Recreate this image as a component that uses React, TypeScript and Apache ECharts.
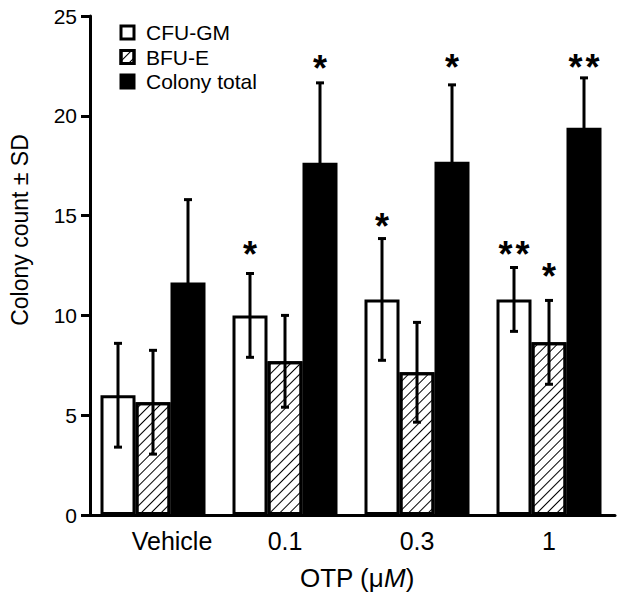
import React, { useEffect, useRef } from "react";
import * as echarts from "echarts";

const categories = ["Vehicle", "0.1", "0.3", "1"];
const cfuMean = [6.0, 10.0, 10.8, 10.8];
const cfuSD = [2.6, 2.1, 3.05, 1.6];
const cfuStars = ["", "*", "*", "**"];
const cfuStarY = [0, 13.25, 14.65, 13.25];
const bfuMean = [5.65, 7.7, 7.15, 8.65];
const bfuSD = [2.6, 2.3, 2.5, 2.1];
const bfuStars = ["", "", "", "*"];
const bfuStarY = [0, 0, 0, 12.15];
const totMean = [11.65, 17.65, 17.7, 19.4];
const totSD = [4.15, 4.0, 3.85, 2.5];
const totStars = ["", "*", "*", "**"];
const totStarY = [0, 22.55, 22.6, 22.6];
const yTicks = { min: 0, max: 25, interval: 5 };

const FONT = "Liberation Sans, Arial, Helvetica, sans-serif";
const BAR_W = 35;
const STAR_SIZE = 36;

function errSeries(
  means: number[],
  sds: number[],
  stars: string[],
  starY: number[],
  offset: number
) {
  return {
    type: "custom",
    z: 10,
    silent: true,
    data: means.map((m, i) => [i, m, sds[i], starY[i]]),
    encode: { x: 0, y: 1 },
    renderItem: (params: any, api: any) => {
      const cat = api.value(0);
      const mean = api.value(1);
      const sd = api.value(2);
      const top = api.coord([cat, mean + sd]);
      const bot = api.coord([cat, mean - sd]);
      const x = top[0] + offset;
      const st = { stroke: "#000", lineWidth: 3 };
      const children: any[] = [
        { type: "line", shape: { x1: x, y1: top[1], x2: x, y2: bot[1] }, style: st },
        { type: "line", shape: { x1: x - 4, y1: top[1], x2: x + 4, y2: top[1] }, style: st },
        { type: "line", shape: { x1: x - 4, y1: bot[1], x2: x + 4, y2: bot[1] }, style: st },
      ];
      const s = stars[params.dataIndex];
      if (s) {
        const sy = api.coord([cat, api.value(3)])[1];
        const n = s.length;
        for (let k = 0; k < n; k++) {
          children.push({
            type: "text",
            style: {
              text: "*",
              x: x + (k - (n - 1) / 2) * 17,
              y: sy + STAR_SIZE * 0.6,
              align: "center",
              verticalAlign: "bottom",
              fontSize: STAR_SIZE,
              fontWeight: "bold",
              fontFamily: FONT,
              fill: "#000",
            },
          });
        }
      }
      return { type: "group", children };
    },
  };
}

export default function App() {
  const ref = useRef<HTMLDivElement>(null);
  useEffect(() => {
    if (!ref.current) return;
    const chart = echarts.init(ref.current, null, { renderer: "svg" });
    const barBase = {
      type: "bar",
      barWidth: BAR_W,
      barGap: "0%",
    };
    chart.setOption({
      animation: false,
      backgroundColor: "#fff",
      textStyle: { fontFamily: FONT },
      grid: { left: 87, top: 16, width: 528, bottom: 84 },
      legend: {
        left: 119.5,
        top: 22,
        padding: 0,
        orient: "vertical",
        icon: "rect",
        itemWidth: 13,
        itemHeight: 13,
        itemGap: 3.5,
        itemStyle: { borderWidth: 3, borderColor: "#000" },
        data: ["CFU-GM", "BFU-E", "Colony total"],
        textStyle: {
          fontSize: 21,
          lineHeight: 21,
          color: "#000",
          fontFamily: FONT,
          padding: [0, 0, 0, 7],
        },
      },
      xAxis: {
        type: "category",
        data: categories,
        axisLine: { lineStyle: { color: "#000", width: 3 } },
        axisTick: { show: false },
        axisLabel: {
          interval: 0,
          hideOverlap: false,
          color: "#000",
          fontSize: 25,
          margin: 13,
          fontFamily: FONT,
          formatter: (v: string, i: number) => (i === 0 ? "{v|" + v + "}" : v),
          rich: { v: { fontSize: 25, fontFamily: FONT, color: "#000", padding: [0, 0, 0, 38] } },
        },
      },
      yAxis: {
        type: "value",
        min: yTicks.min,
        max: yTicks.max,
        interval: yTicks.interval,
        offset: -3,
        axisLine: { show: true, lineStyle: { color: "#000", width: 3 } },
        axisTick: { show: true, length: 9, lineStyle: { color: "#000", width: 3 } },
        splitLine: { show: false },
        axisLabel: { color: "#000", fontSize: 21, margin: 13, fontFamily: FONT },
      },
      graphic: [
        {
          type: "text",
          x: 20,
          y: 230,
          rotation: Math.PI / 2,
          style: {
            text: "Colony count ± SD",
            fontSize: 23,
            fontFamily: FONT,
            fill: "#000",
            align: "center",
            verticalAlign: "middle",
          },
        },
        {
          type: "text",
          x: 357,
          y: 578,
          style: {
            text: "OTP (μ{i|M})",
            fontSize: 26,
            fontFamily: FONT,
            fill: "#000",
            align: "center",
            verticalAlign: "middle",
            rich: { i: { fontStyle: "italic", fontSize: 26, fontFamily: FONT } },
          },
        },
      ],
      series: [
        {
          ...barBase,
          name: "CFU-GM",
          data: cfuMean,
          itemStyle: { color: "#fff", borderColor: "#000", borderWidth: 3 },
        },
        {
          ...barBase,
          name: "BFU-E",
          data: bfuMean,
          itemStyle: {
            color: "#fff",
            borderColor: "#000",
            borderWidth: 3,
            decal: {
              symbol: "rect",
              symbolSize: 1,
              color: "#000",
              dashArrayX: [1, 0],
              dashArrayY: [1, 6],
              rotation: -Math.PI / 4,
            },
          },
        },
        {
          ...barBase,
          name: "Colony total",
          data: totMean,
          itemStyle: { color: "#000", borderColor: "#000", borderWidth: 3 },
        },
        errSeries(cfuMean, cfuSD, cfuStars, cfuStarY, -BAR_W),
        errSeries(bfuMean, bfuSD, bfuStars, bfuStarY, 0),
        errSeries(totMean, totSD, totStars, totStarY, BAR_W),
      ],
    });
    return () => chart.dispose();
  }, []);
  return (
    <div
      ref={ref}
      style={{ position: "fixed", left: 0, top: 0, width: 621, height: 599 }}
    />
  );
}
